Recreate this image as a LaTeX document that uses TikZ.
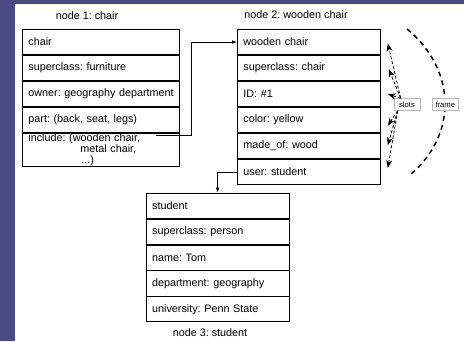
\documentclass[tikz,border=0pt]{standalone}
\usepackage{fontspec}
\setmainfont{Liberation Sans}
\usetikzlibrary{arrows.meta,calc}
\definecolor{slideblue}{RGB}{74,74,130}
\definecolor{tagedge}{RGB}{185,185,185}
\frenchspacing
\tikzset{
  cell/.style={draw=black, line width=0.8pt, anchor=north west,
    inner xsep=6pt, inner ysep=0pt, align=left, minimum height=25.2pt,
    font=\fontsize{10.8}{11}\selectfont\frenchspacing},
  wide/.style={text width=145pt},
  narrow/.style={text width=131pt},
  caption/.style={font=\fontsize{10.8}{11}\selectfont},
  tag/.style={draw=tagedge, line width=0.7pt, fill=white, inner sep=1pt,
    minimum width=26pt, minimum height=12pt, font=\fontsize{7.6}{8}\selectfont},
  conn/.style={draw=black, line width=0.8pt, -{Latex[length=5pt,width=3.6pt]}},
  slotline/.style={draw=black, line width=0.8pt, dash pattern=on 3pt off 2pt,
    -{Stealth[length=8pt,width=6pt]}},
  framearc/.style={draw=black, line width=1.5pt, dash pattern=on 5pt off 4pt}
}
\begin{document}
\begin{tikzpicture}[x=1pt,y=-1pt]
  % slide background
  \useasboundingbox (0,0) rectangle (464,341);
  \fill[white] (0,0) rectangle (464,341);
  \fill[slideblue] (0,0) rectangle (15,341);
  \fill[slideblue] (0,0) rectangle (464,4);

  % node 1: chair
  \node[caption] (cap1) at (87,16) {node 1: chair};
  \node[cell,wide] (r1a) at (22,29) {chair};
  \node[cell,wide] (r1b) at (r1a.south west) {superclass: furniture};
  \node[cell,wide] (r1c) at (r1b.south west) {\mbox{owner: geography department}};
  \node[cell,wide] (r1d) at (r1c.south west) {part: (back, seat, legs)};
  \node[cell,wide,minimum height=32.7pt] (r1e) at (r1d.south west)
    {include: (wooden chair,\\\hspace*{52pt}metal chair,\\\hspace*{53pt}...)};

  % node 2: wooden chair
  \node[caption] (cap2) at (296,15) {node 2: wooden chair};
  \node[cell,narrow] (r2a) at (237,29) {wooden chair};
  \node[cell,narrow] (r2b) at (r2a.south west) {superclass: chair};
  \node[cell,narrow] (r2c) at (r2b.south west) {ID: \#1};
  \node[cell,narrow] (r2d) at (r2c.south west) {color: yellow};
  \node[cell,narrow] (r2e) at (r2d.south west) {made\_of: wood};
  \node[cell,narrow] (r2f) at (r2e.south west) {user: student};

  % node 3: student
  \node[cell,narrow,minimum height=25.1pt] (r3a) at (145.7,192.7) {student};
  \node[cell,narrow,minimum height=25.1pt] (r3b) at (r3a.south west) {superclass: person};
  \node[cell,narrow,minimum height=25.1pt] (r3c) at (r3b.south west) {name: Tom};
  \node[cell,narrow,minimum height=25.1pt] (r3d) at (r3c.south west) {department: geography};
  \node[cell,narrow,minimum height=25.1pt] (r3e) at (r3d.south west) {university: Penn State};
  \node[caption] (cap3) at (210,333) {node 3: student};

  % links between frames
  \coordinate (inc) at (156,135);
  \draw[conn] (inc) -- ++(35,0) |- (r2a.west);
  \draw[conn] (r2f.west) -| (r3a.north);

  % frame brace
  \draw[framearc] (407,29) .. controls (457,70) and (457,135) .. (411,174);

  % labels
  \node[tag] (slots) at (407,104.5) {slots};
  \node[tag] (frame) at (445.3,104.5) {frame};

  % slot pointers
  \coordinate (hubU) at ($(slots.north west)+(7,0)$);
  \coordinate (hubD) at ($(slots.south west)+(4,0)$);
  \draw[slotline] (hubU) -- ($(r2a.east)+(7,1.5)$);
  \draw[slotline] (hubU) -- ($(r2b.east)+(8,1.2)$);
  \draw[slotline] (hubU) -- ($(r2c.east)+(7,0)$);
  \draw[slotline] (hubD) -- ($(r2d.east)+(7,5.8)$);
  \draw[slotline] (hubD) -- ($(r2e.east)+(7,-0.8)$);
  \draw[slotline] (hubD) -- ($(r2f.east)+(7,-4)$);
\end{tikzpicture}
\end{document}
